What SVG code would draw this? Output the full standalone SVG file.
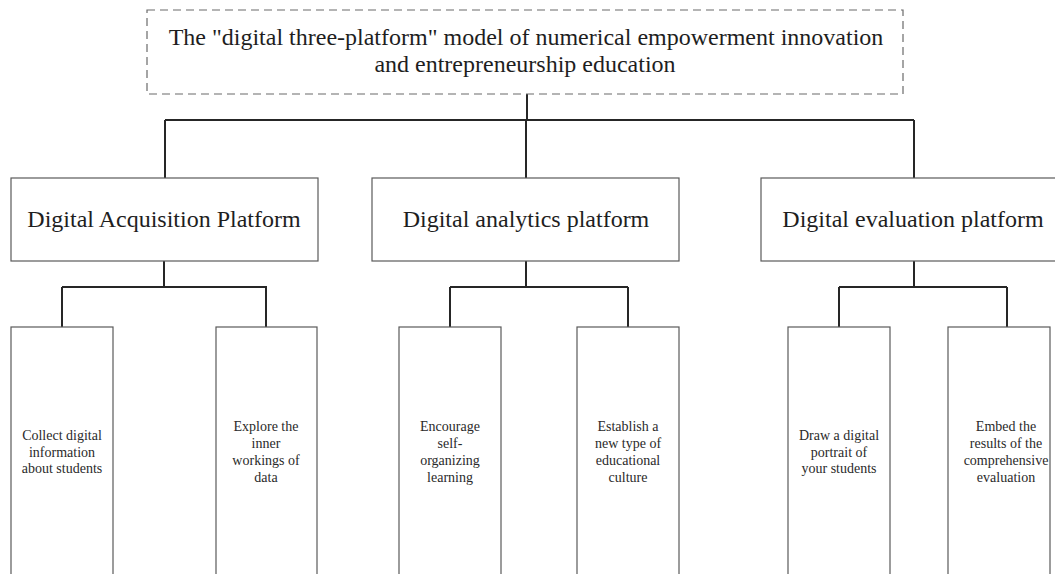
<svg xmlns="http://www.w3.org/2000/svg" width="1055" height="574" viewBox="0 0 1055 574" font-family="Liberation Serif, serif">
  <style>
    .box { fill: #ffffff; stroke: #5a5a5a; stroke-width: 1.2; }
    .dash { fill: #ffffff; stroke: #6a6a6a; stroke-width: 1.2; stroke-dasharray: 8 5; }
    .wire { fill: none; stroke: #262626; stroke-width: 2; }
    text { fill: #1e1e1e; text-anchor: middle; }
    .t1 { font-size: 24px; }
    .t2 { font-size: 24px; }
    .t3 { font-size: 14px; fill: #2a2a2a; }
  </style>
  <rect width="1055" height="574" fill="#ffffff"/>

  <!-- connectors -->
  <g id="connectors">
    <path class="wire" d="M527 94 V120 M165 120 H914 M165 120 V178 M526 120 V178 M914 120 V178"/>
    <path class="wire" d="M164 261 V287 M62 287 H267 M62 287 V327 M266 287 V327"/>
    <path class="wire" d="M526 261 V287 M450 287 H628 M450 287 V327 M628 287 V327"/>
    <path class="wire" d="M914 261 V287 M839 287 H1007 M839 287 V327 M1007 287 V327"/>
  </g>

  <!-- root -->
  <g id="root">
    <rect class="dash" x="147" y="10" width="756" height="84"/>
    <text class="t1" x="526" y="45">The "digital three-platform" model of numerical empowerment innovation</text>
    <text class="t1" x="525" y="72">and entrepreneurship education</text>
  </g>

  <!-- platforms -->
  <g id="acquisition">
    <rect class="box" x="11" y="178" width="307" height="83"/>
    <text class="t2" x="164" y="227">Digital Acquisition Platform</text>
  </g>
  <g id="analytics">
    <rect class="box" x="372" y="178" width="307" height="83"/>
    <text class="t2" x="526" y="227">Digital analytics platform</text>
  </g>
  <g id="evaluation">
    <rect class="box" x="761" y="178" width="307" height="83"/>
    <text class="t2" x="913" y="227">Digital evaluation platform</text>
  </g>

  <!-- leaves -->
  <g id="collect">
    <rect class="box" x="11" y="327" width="102" height="260"/>
    <text class="t3" x="62"><tspan x="62" y="440">Collect digital</tspan><tspan x="62" y="457">information</tspan><tspan x="62" y="473">about students</tspan></text>
  </g>
  <g id="explore">
    <rect class="box" x="216" y="327" width="101" height="260"/>
    <text class="t3" x="266"><tspan x="266" y="431">Explore the</tspan><tspan x="266" y="448">inner</tspan><tspan x="266" y="465">workings of</tspan><tspan x="266" y="482">data</tspan></text>
  </g>
  <g id="encourage">
    <rect class="box" x="399" y="327" width="102" height="260"/>
    <text class="t3" x="450"><tspan x="450" y="431">Encourage</tspan><tspan x="450" y="448">self-</tspan><tspan x="450" y="465">organizing</tspan><tspan x="450" y="482">learning</tspan></text>
  </g>
  <g id="establish">
    <rect class="box" x="577" y="327" width="102" height="260"/>
    <text class="t3" x="628"><tspan x="628" y="431">Establish a</tspan><tspan x="628" y="448">new type of</tspan><tspan x="628" y="465">educational</tspan><tspan x="628" y="482">culture</tspan></text>
  </g>
  <g id="portrait">
    <rect class="box" x="788" y="327" width="102" height="260"/>
    <text class="t3" x="839"><tspan x="839" y="440">Draw a digital</tspan><tspan x="839" y="457">portrait of</tspan><tspan x="839" y="473">your students</tspan></text>
  </g>
  <g id="embed">
    <rect class="box" x="948" y="327" width="102" height="260"/>
    <text class="t3" x="1006"><tspan x="1006" y="431">Embed the</tspan><tspan x="1006" y="448">results of the</tspan><tspan x="1006" y="465">comprehensive</tspan><tspan x="1006" y="482">evaluation</tspan></text>
  </g>
</svg>
